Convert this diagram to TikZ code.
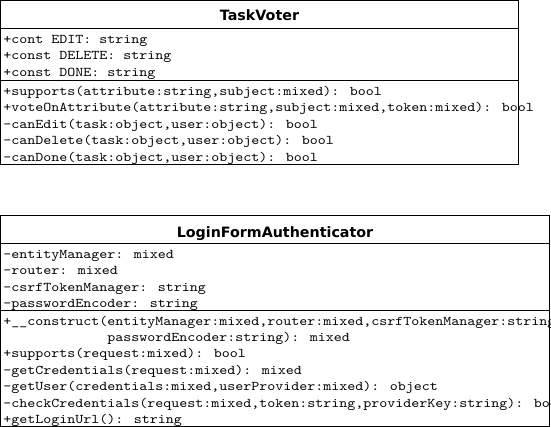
\documentclass[tikz,border=0pt]{standalone}
\usepackage{fontspec}
\newfontfamily\umlmono{Latin Modern Mono}[FakeStretch=1.143]
\newfontfamily\umlsans{DejaVu Sans}
\usetikzlibrary{positioning}

\begin{document}
\begin{tikzpicture}[x=0.75pt, y=-0.75pt,
			title/.style={anchor=base, inner sep=0pt, font=\umlsans\bfseries\fontsize{10.7}{12}\selectfont},
			member/.style={anchor=north west, inner sep=0pt, text height=9.4pt, text depth=2.6pt, font=\umlmono\fontsize{10}{12}\selectfont},
			frame/.style={draw, line width=0.75pt}
			]
			\useasboundingbox (0,0) rectangle (551,427);
			
			% TaskVoter
			\draw[frame] (0.5,0.5) rectangle (518.5,164.5);
			\draw[frame] (0.5,28.5) -- (518.5,28.5);
			\draw[frame] (0.5,80.5) -- (518.5,80.5);
			\node[title] (taskvoter) at (259.5,21) {TaskVoter};
			\node[member] (tv_a1) at (3,30.5) {+cont EDIT: string};
			\node[member, below right=0pt and 0pt of tv_a1.south west] (tv_a2) {+const DELETE: string};
			\node[member, below right=0pt and 0pt of tv_a2.south west] (tv_a3) {+const DONE: string};
			\node[member] (tv_m1) at (3,82.5) {+supports(attribute:string,subject:mixed): bool};
			\node[member, below right=0pt and 0pt of tv_m1.south west] (tv_m2) {+voteOnAttribute(attribute:string,subject:mixed,token:mixed): bool};
			\node[member, below right=0pt and 0pt of tv_m2.south west] (tv_m3) {-canEdit(task:object,user:object): bool};
			\node[member, below right=0pt and 0pt of tv_m3.south west] (tv_m4) {-canDelete(task:object,user:object): bool};
			\node[member, below right=0pt and 0pt of tv_m4.south west] (tv_m5) {-canDone(task:object,user:object): bool};
			
			% LoginFormAuthenticator
			\draw[frame] (0.5,215.5) rectangle (549.5,426.5);
			\draw[frame] (0.5,243.5) -- (549.5,243.5);
			\draw[frame] (0.5,310.5) -- (549.5,310.5);
			\node[title] (loginform) at (275,238) {LoginFormAuthenticator};
			\node[member] (lf_a1) at (3,245.5) {-entityManager: mixed};
			\node[member, below right=0pt and 0pt of lf_a1.south west] (lf_a2) {-router: mixed};
			\node[member, below right=0pt and 0pt of lf_a2.south west] (lf_a3) {-csrfTokenManager: string};
			\node[member, below right=0pt and 0pt of lf_a3.south west] (lf_a4) {-passwordEncoder: string};
			\node[member] (lf_m1) at (3,312.5) {+\_\_construct(entityManager:mixed,router:mixed,csrfTokenManager:string,};
			\node[member, below right=0pt and 78pt of lf_m1.south west] (lf_m1b) {passwordEncoder:string): mixed};
			\node[member, below right=12pt and 0pt of lf_m1.south west] (lf_m2) {+supports(request:mixed): bool};
			\node[member, below right=0pt and 0pt of lf_m2.south west] (lf_m3) {-getCredentials(request:mixed): mixed};
			\node[member, below right=0pt and 0pt of lf_m3.south west] (lf_m4) {-getUser(credentials:mixed,userProvider:mixed): object};
			\node[member, below right=0pt and 0pt of lf_m4.south west] (lf_m5) {-checkCredentials(request:mixed,token:string,providerKey:string): bool};
			\node[member, below right=0pt and 0pt of lf_m5.south west] (lf_m6) {+getLoginUrl(): string};
		\end{tikzpicture}
\end{document}
